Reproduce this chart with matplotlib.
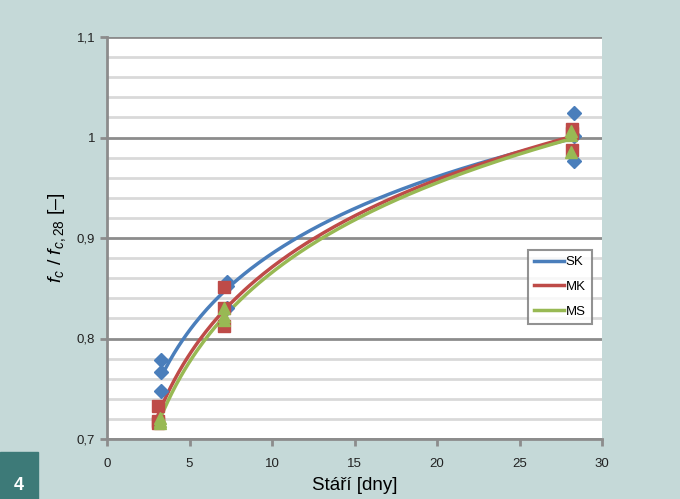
import numpy as np
import matplotlib
matplotlib.use("Agg")
import matplotlib.pyplot as plt
from matplotlib.ticker import MultipleLocator, FuncFormatter

plt.rcParams["mathtext.fontset"] = "custom"
plt.rcParams["mathtext.rm"] = "Liberation Sans"
plt.rcParams["mathtext.it"] = "Liberation Sans:italic"

# Data (age in days, ratio fc/fc28)
sk_x = [3.3, 3.3, 3.3, 7.3, 7.3, 7.3, 28.3, 28.3, 28.3]
sk_y = [0.779, 0.767, 0.748, 0.856, 0.852, 0.830, 1.024, 1.001, 0.977]
mk_x = [3.1, 3.1, 3.1, 7.1, 7.1, 7.1, 28.2, 28.2, 28.2]
mk_y = [0.733, 0.718, 0.716, 0.851, 0.830, 0.812, 1.008, 1.004, 0.988]
ms_x = [3.2, 3.2, 3.2, 7.1, 7.1, 7.1, 28.1, 28.1, 28.1]
ms_y = [0.721, 0.718, 0.716, 0.830, 0.822, 0.818, 1.006, 1.002, 0.986]

series = [("SK", sk_x, sk_y, "#4a7ebb", "D", 7),
          ("MK", mk_x, mk_y, "#be4b48", "s", 8),
          ("MS", ms_x, ms_y, "#98b954", "^", 8)]

bg = "#c5d9d8"
fig = plt.figure(figsize=(6.8, 4.99), dpi=100, facecolor=bg)
ax = fig.add_axes([107/680, 1-439/499, (602-107)/680, (439-37)/499])
ax.set_facecolor("white")

ax.set_xlim(0, 30)
ax.set_ylim(0.7, 1.1)
ax.yaxis.set_major_locator(MultipleLocator(0.1))
ax.yaxis.set_minor_locator(MultipleLocator(0.02))
ax.xaxis.set_major_locator(MultipleLocator(5))
ax.grid(which="minor", axis="y", color="#d9d9d9", lw=2)
ax.grid(which="major", axis="y", color="#8c8c8c", lw=2)
ax.set_axisbelow(True)

def fmt(v, pos):
    s = ("%.1f" % v).replace(".", ",")
    if s.endswith(",0"):
        s = s[:-2]
    return s
ax.yaxis.set_major_formatter(FuncFormatter(fmt))
ax.xaxis.set_major_formatter(FuncFormatter(lambda v, p: "%d" % v))

for name, xs, ys, col, mk, ms in series:
    xs = np.array(xs); ys = np.array(ys)
    a, b = np.polyfit(np.log(xs), ys, 1)
    xx = np.linspace(xs.min(), xs.max(), 200)
    ax.plot(xx, a*np.log(xx)+b, color=col, lw=2.5, label=name, zorder=3)
    ax.plot(xs, ys, ls="none", marker=mk, ms=ms, color=col, zorder=4)

for s in ["top", "right"]:
    ax.spines[s].set_visible(False)
for s in ["left", "bottom"]:
    ax.spines[s].set_color("#8c8c8c")
    ax.spines[s].set_linewidth(2)
ax.tick_params(axis="both", which="major", color="#8c8c8c", width=2, length=5,
               labelsize=9.5, labelcolor="#222222", labelfontfamily="Liberation Sans")
ax.tick_params(axis="y", which="minor", length=0)
ax.tick_params(axis="x", pad=9)

ax.set_xlabel("Stáří [dny]", fontsize=13.5, family="Liberation Sans", labelpad=5)
ax.set_ylabel(r"$f_{c}$ / $f_{c\mathrm{,28}}$ [–]", fontsize=14, family="Liberation Sans", labelpad=6)

leg = ax.legend(loc="upper left", bbox_to_anchor=((528-107)/495, (439-250)/402),
                frameon=True, fancybox=False, edgecolor="#777777",
                handlelength=2.3, borderpad=0.45, labelspacing=0.95, handletextpad=0.1,
                borderaxespad=0,
                prop={"family": "Liberation Sans", "size": 9.5})
leg.get_frame().set_linewidth(1.5)

# figure number box
fig.patches.append(plt.Rectangle((0, 0), 38/680, 47/499, transform=fig.transFigure,
                                 color="#3d7a78", zorder=0))
fig.text(19/680, 13/499, "4", color="white", fontsize=13, ha="center", va="center",
         family="Liberation Sans", weight="bold")

fig.savefig("out.png", dpi=100, facecolor=bg)
